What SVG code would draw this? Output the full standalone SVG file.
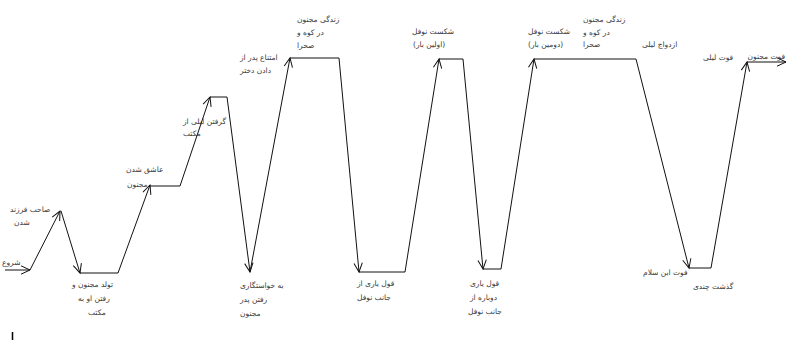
<svg xmlns="http://www.w3.org/2000/svg" width="787" height="340" viewBox="0 0 787 340">
  <style>
    .lbl { font-family: "DejaVu Sans", sans-serif; font-size: 7.5px; fill: #3a3a3a; }
    .ln { stroke: #111; stroke-width: 1; fill: none; }
    .arr { stroke: #111; stroke-width: 1; fill: none; marker-end: url(#head); }
  </style>
  <defs>
    <marker id="head" markerUnits="userSpaceOnUse" markerWidth="12" markerHeight="12" refX="10" refY="6" orient="auto">
      <path d="M1,1.8 L10,6 L1,10.2" fill="none" stroke="#111" stroke-width="1"/>
    </marker>
  </defs>
  <rect width="787" height="340" fill="#fff"/>

  <!-- timeline of events: rises and falls -->
  <g id="connectors">
    <line class="arr" x1="5" y1="270" x2="30" y2="270"/>
    <line class="arr" x1="30" y1="270" x2="60" y2="211"/>
    <line class="arr" x1="61" y1="211" x2="80" y2="273"/>
    <line class="ln" x1="80" y1="273" x2="118" y2="273"/>
    <line class="arr" x1="118" y1="273" x2="150" y2="185"/>
    <line class="ln" x1="150" y1="186" x2="180" y2="186"/>
    <line class="arr" x1="180" y1="186" x2="210" y2="97"/>
    <line class="ln" x1="210" y1="97" x2="227" y2="97"/>
    <line class="arr" x1="227" y1="97" x2="250" y2="272"/>
    <line class="arr" x1="250" y1="272" x2="290" y2="58"/>
    <line class="ln" x1="290" y1="58" x2="339" y2="58"/>
    <line class="arr" x1="339" y1="58" x2="359" y2="272"/>
    <line class="ln" x1="359" y1="272" x2="405" y2="272"/>
    <line class="arr" x1="405" y1="272" x2="439" y2="59"/>
    <line class="ln" x1="439" y1="59" x2="463" y2="59"/>
    <line class="arr" x1="463" y1="59" x2="483" y2="269"/>
    <line class="ln" x1="483" y1="269" x2="501" y2="269"/>
    <line class="arr" x1="501" y1="269" x2="534" y2="59"/>
    <line class="ln" x1="534" y1="59" x2="636" y2="59"/>
    <line class="arr" x1="636" y1="59" x2="689" y2="268"/>
    <line class="ln" x1="689" y1="268" x2="711" y2="268"/>
    <line class="arr" x1="711" y1="268" x2="747" y2="62"/>
    <line class="arr" x1="747" y1="62" x2="786" y2="62"/>
  </g>

  <g id="n-start"><text class="lbl" x="2" y="265">شروع</text></g>
  <g id="n-child">
    <text class="lbl" x="10" y="212">صاحب فرزند</text>
    <text class="lbl" x="14" y="225">شدن</text>
  </g>
  <g id="n-birth">
    <text class="lbl" x="72" y="287">تولد مجنون و</text>
    <text class="lbl" x="78" y="301">رفتن او به</text>
    <text class="lbl" x="88" y="315">مکتب</text>
  </g>
  <g id="n-love">
    <text class="lbl" x="126" y="172">عاشق شدن</text>
    <text class="lbl" x="127" y="187">مجنون</text>
  </g>
  <g id="n-school">
    <text class="lbl" x="183" y="124">گرفتن لیلی از</text>
    <text class="lbl" x="183" y="136">مکتب</text>
  </g>
  <g id="n-refuse">
    <text class="lbl" x="240" y="60">امتناع پدر از</text>
    <text class="lbl" x="240" y="73">دادن دختر</text>
  </g>
  <g id="n-desert1">
    <text class="lbl" x="297" y="22">زندگی مجنون</text>
    <text class="lbl" x="297" y="35">در کوه و</text>
    <text class="lbl" x="297" y="48">صحرا</text>
  </g>
  <g id="n-proposal">
    <text class="lbl" x="240" y="288">به خواستگاری</text>
    <text class="lbl" x="240" y="302">رفتن پدر</text>
    <text class="lbl" x="240" y="316">مجنون</text>
  </g>
  <g id="n-promise1">
    <text class="lbl" x="357" y="286">قول یاری از</text>
    <text class="lbl" x="357" y="300">جانب نوفل</text>
  </g>
  <g id="n-defeat1">
    <text class="lbl" x="412" y="34">شکست نوفل</text>
    <text class="lbl" x="413" y="47">(اولین بار)</text>
  </g>
  <g id="n-promise2">
    <text class="lbl" x="470" y="286">قول یاری</text>
    <text class="lbl" x="470" y="300">دوباره از</text>
    <text class="lbl" x="468" y="314">جانب نوفل</text>
  </g>
  <g id="n-defeat2">
    <text class="lbl" x="528" y="34">شکست نوفل</text>
    <text class="lbl" x="528" y="47">(دومین بار)</text>
  </g>
  <g id="n-desert2">
    <text class="lbl" x="583" y="22">زندگی مجنون</text>
    <text class="lbl" x="583" y="35">در کوه و</text>
    <text class="lbl" x="583" y="47">صحرا</text>
  </g>
  <g id="n-marriage"><text class="lbl" x="642" y="47">ازدواج لیلی</text></g>
  <g id="n-salam"><text class="lbl" x="643" y="275">فوت ابن سلام</text></g>
  <g id="n-time"><text class="lbl" x="693" y="289">گذشت چندی</text></g>
  <g id="n-leyli"><text class="lbl" x="703" y="60">فوت لیلی</text></g>
  <g id="n-majnun"><text class="lbl" x="785" y="59" text-anchor="end">فوت مجنون</text></g>

  <line x1="12.5" y1="332" x2="12.5" y2="340" stroke="#000" stroke-width="1.5"/>
</svg>
